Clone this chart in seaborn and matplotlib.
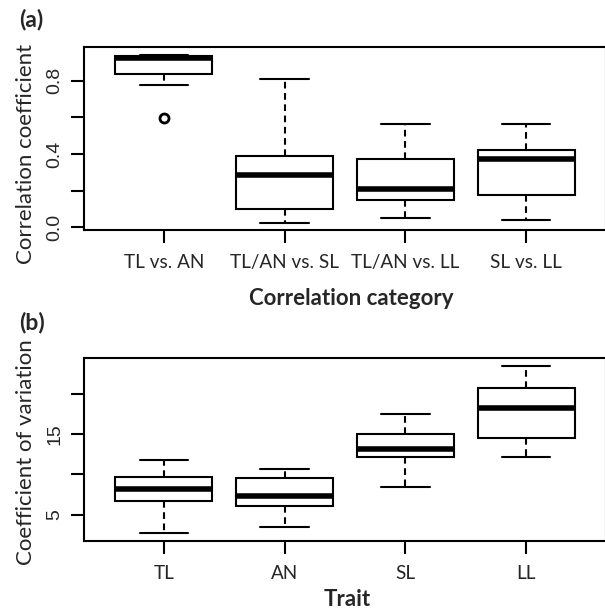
import numpy as np
import pandas as pd
import matplotlib
matplotlib.use("Agg")
import matplotlib.pyplot as plt
import seaborn as sns

# (a) correlation coefficients: whisker low, Q1, median, Q3, whisker high
corr_cats = ["TL vs. AN", "TL/AN vs. SL", "TL/AN vs. LL", "SL vs. LL"]
corr_low = [0.777, 0.025, 0.049, 0.042]
corr_q1 = [0.834, 0.098, 0.149, 0.176]
corr_med = [0.922, 0.283, 0.209, 0.374]
corr_q3 = [0.935, 0.391, 0.373, 0.423]
corr_high = [0.940, 0.808, 0.565, 0.565]
corr_out_cat = ["TL vs. AN"]
corr_out_val = [0.596]

# (b) coefficient of variation per trait
traits = ["TL", "AN", "SL", "LL"]
cv_low = [2.70, 3.44, 8.37, 12.20]
cv_q1 = [6.69, 6.11, 12.20, 14.47]
cv_med = [8.21, 7.26, 13.11, 18.25]
cv_q3 = [9.69, 9.49, 15.00, 20.68]
cv_high = [11.79, 10.68, 17.43, 23.48]

sns.set_style("ticks")
plt.rcParams["font.family"] = ["Lato", "DejaVu Sans"]
plt.rcParams["axes.linewidth"] = 1.5
plt.rcParams["axes.edgecolor"] = "black"

W, H = 605, 611
fig = plt.figure(figsize=(W / 100, H / 100), dpi=100)


def px_axes(x0, y0, x1, y1):
    return fig.add_axes([x0 / W, 1 - y1 / H, (x1 - x0) / W, (y1 - y0) / H])


def box_panel(ax, cats, low, q1, med, q3, high):
    df = pd.DataFrame({
        "cat": np.repeat(cats, 5),
        "val": np.column_stack([low, q1, med, q3, high]).ravel(),
    })
    sns.boxplot(data=df, x="cat", y="val", order=cats, ax=ax,
                color="white", linecolor="black", linewidth=1.5, width=0.8,
                showfliers=False,
                medianprops={"linewidth": 4.0},
                whiskerprops={"linestyle": (0, (3.2, 2.2))})


def style_axes(ax, cats, ylim, yticks, ylabels):
    ax.set_xlim(-0.66, 3.66)
    ax.set_ylim(*ylim)
    ax.set_xticks(range(len(cats)), cats, fontsize=13.6)
    ax.set_yticks(yticks, ylabels, rotation=90, va="center",
                  fontfamily="Liberation Sans", fontsize=14)
    ax.tick_params(axis="x", length=9.5, width=1.5, pad=7.5, color="black")
    ax.tick_params(axis="y", length=9.5, width=1.5, pad=5.5, color="black")
    ax.set_xlabel("")
    ax.set_ylabel("")
    for s in ax.spines.values():
        s.set_linewidth(1.5)
        s.set_color("black")


# panel (a)
ax1 = px_axes(84, 47.3, 606, 230)
box_panel(ax1, corr_cats, corr_low, corr_q1, corr_med, corr_q3, corr_high)
sns.stripplot(x=corr_out_cat, y=corr_out_val, order=corr_cats, ax=ax1,
              jitter=False, color="white", edgecolor="black", linewidth=2, size=6.5)
style_axes(ax1, corr_cats, (-0.015, 0.982), [0.0, 0.2, 0.4, 0.6, 0.8],
           ["0.0", "", "0.4", "", "0.8"])

# panel (b)
ax2 = px_axes(84, 358.3, 606, 541.3)
box_panel(ax2, traits, cv_low, cv_q1, cv_med, cv_q3, cv_high)
style_axes(ax2, traits, (1.70, 24.38), [5, 10, 15, 20], ["5", "", "15", ""])

# labels placed in pixel positions
def px_text(x, y, s, **kw):
    fig.text(x / W, 1 - y / H, s, **kw)


px_text(31, 26.5, "(a)", ha="center", va="baseline", fontsize=16.5, fontweight="bold")
px_text(32, 329.5, "(b)", ha="center", va="baseline", fontsize=16.5, fontweight="bold")
px_text(32, 154, "Correlation coefficient", rotation=90, rotation_mode="anchor",
        ha="center", va="baseline", fontsize=16)
px_text(32, 452.5, "Coefficient of variation", rotation=90, rotation_mode="anchor",
        ha="center", va="baseline", fontsize=16)
px_text(351, 305, "Correlation category", ha="center", va="baseline",
        fontsize=16, fontweight="bold")
px_text(347, 606, "Trait", ha="center", va="baseline", fontsize=16, fontweight="bold")

fig.savefig("out.png", dpi=100, facecolor="white")
